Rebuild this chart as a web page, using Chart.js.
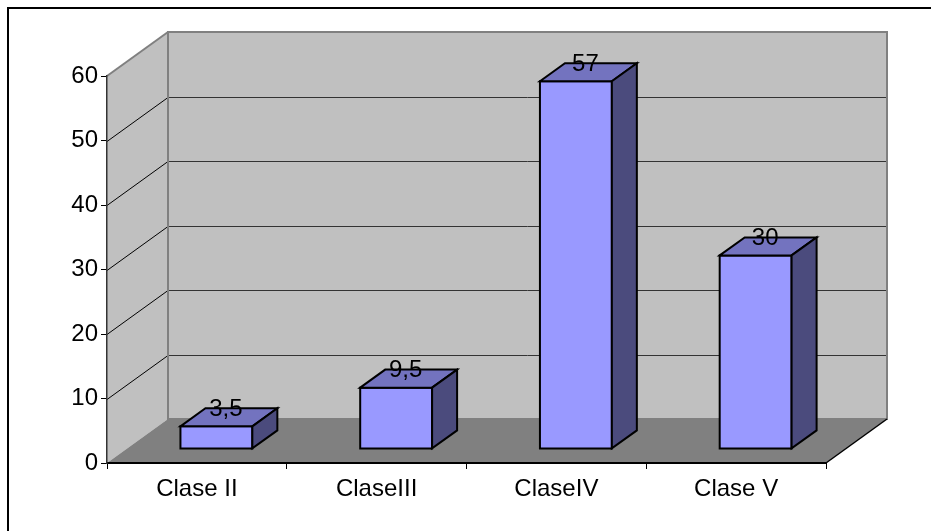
<!DOCTYPE html>
<html>
<head>
<meta charset="utf-8">
<style>
  html, body { margin: 0; padding: 0; background: #fff; }
  canvas { display: block; }
</style>
<script src="https://cdn.jsdelivr.net/npm/chart.js@4.4.1/dist/chart.umd.min.js"></script>
</head>
<body>
<canvas id="c" width="931" height="531"></canvas>
<script>
// Data
const categories = ['Clase II', 'ClaseIII', 'ClaseIV', 'Clase V'];
const values = [3.5, 9.5, 57, 30];
const yTickValues = [0, 10, 20, 30, 40, 50, 60];

// 3D projection: offset of the back wall relative to the front plane
const DEPTH_DX = 61;
const DEPTH_DY = -44;
// Bar depth, as fractions of the full depth
const BAR_F0 = 0.32;
const BAR_F1 = 0.73;

const FONT = '24px "Liberation Sans", Arial, sans-serif';

const COLORS = {
  wall: '#C0C0C0',
  wallBorder: '#808080',
  floor: '#808080',
  grid: '#333333',
  front: '#9999FF',
  top: '#7373BF',
  side: '#4B4B7D',
  outline: '#000000'
};

function poly(ctx, pts) {
  ctx.beginPath();
  ctx.moveTo(pts[0][0], pts[0][1]);
  for (let i = 1; i < pts.length; i++) ctx.lineTo(pts[i][0], pts[i][1]);
  ctx.closePath();
}

const formatValue = v => String(v).replace('.', ',');

// Background, frame, walls and floor
const wallsPlugin = {
  id: 'walls3d',
  beforeDraw(chart) {
    const ctx = chart.ctx;
    const { left, right } = chart.chartArea;
    const y = chart.scales.y;
    const yMin = y.getPixelForValue(y.min);
    const yMax = y.getPixelForValue(y.max);

    ctx.save();
    ctx.fillStyle = '#fff';
    ctx.fillRect(0, 0, chart.width, chart.height);

    // outer frame
    ctx.fillStyle = '#000';
    ctx.fillRect(7, 7, chart.width, 2);
    ctx.fillRect(7, 7, 2, chart.height);

    const bl = left + DEPTH_DX, br = right + DEPTH_DX;

    // back wall
    ctx.fillStyle = COLORS.wall;
    ctx.fillRect(bl, yMax + DEPTH_DY, br - bl, yMin - yMax);

    // side wall
    poly(ctx, [[left, yMin], [bl, yMin + DEPTH_DY], [bl, yMax + DEPTH_DY], [left, yMax]]);
    ctx.fill();

    // grid lines on back and side walls
    ctx.lineWidth = 1;
    yTickValues.forEach(v => {
      if (v === y.min || v === y.max) return;
      const py = Math.round(y.getPixelForValue(v)) + 0.5;
      ctx.strokeStyle = COLORS.grid;
      ctx.beginPath();
      ctx.moveTo(bl, py + DEPTH_DY);
      ctx.lineTo(br, py + DEPTH_DY);
      ctx.stroke();
      ctx.strokeStyle = '#000';
      ctx.beginPath();
      ctx.moveTo(left, py);
      ctx.lineTo(bl, py + DEPTH_DY);
      ctx.stroke();
    });

    // back wall border
    ctx.strokeStyle = COLORS.wallBorder;
    ctx.lineWidth = 2;
    ctx.strokeRect(bl, yMax + DEPTH_DY, br - bl, yMin - yMax);
    // top edge of the side wall
    ctx.beginPath();
    ctx.moveTo(left, yMax);
    ctx.lineTo(bl, yMax + DEPTH_DY);
    ctx.stroke();

    // floor
    ctx.fillStyle = COLORS.floor;
    poly(ctx, [[left, yMin], [right, yMin], [br, yMin + DEPTH_DY], [bl, yMin + DEPTH_DY]]);
    ctx.fill();
    ctx.strokeStyle = '#000';
    ctx.lineWidth = 1.5;
    ctx.beginPath();
    ctx.moveTo(right, yMin);
    ctx.lineTo(br, yMin + DEPTH_DY);
    ctx.stroke();
    ctx.restore();
  },

  // extruded bars and their value labels
  afterDatasetsDraw(chart) {
    const ctx = chart.ctx;
    const meta = chart.getDatasetMeta(0);
    const dx0 = DEPTH_DX * BAR_F0, dy0 = DEPTH_DY * BAR_F0;
    const dx1 = DEPTH_DX * BAR_F1, dy1 = DEPTH_DY * BAR_F1;

    ctx.save();
    ctx.lineWidth = 2;
    ctx.lineJoin = 'miter';
    ctx.strokeStyle = COLORS.outline;
    meta.data.forEach((el, i) => {
      const p = el.getProps(['x', 'y', 'base', 'width'], true);
      const x0 = p.x - p.width / 2, x1 = p.x + p.width / 2;
      const yt = p.y, yb = p.base;

      // front
      ctx.fillStyle = COLORS.front;
      poly(ctx, [[x0 + dx0, yt + dy0], [x1 + dx0, yt + dy0], [x1 + dx0, yb + dy0], [x0 + dx0, yb + dy0]]);
      ctx.fill(); ctx.stroke();
      // top
      ctx.fillStyle = COLORS.top;
      poly(ctx, [[x0 + dx0, yt + dy0], [x0 + dx1, yt + dy1], [x1 + dx1, yt + dy1], [x1 + dx0, yt + dy0]]);
      ctx.fill(); ctx.stroke();
      // side
      ctx.fillStyle = COLORS.side;
      poly(ctx, [[x1 + dx0, yt + dy0], [x1 + dx1, yt + dy1], [x1 + dx1, yb + dy1], [x1 + dx0, yb + dy0]]);
      ctx.fill(); ctx.stroke();

      // value label
      ctx.fillStyle = '#000';
      ctx.font = FONT;
      ctx.textAlign = 'center';
      ctx.textBaseline = 'middle';
      ctx.fillText(formatValue(values[i]), p.x + (dx0 + dx1) / 2 - 3, yt + dy1 + 1);
    });
    ctx.restore();
  }
};

new Chart(document.getElementById('c'), {
  type: 'bar',
  data: {
    labels: categories,
    datasets: [{
      data: values,
      backgroundColor: 'rgba(0,0,0,0)',
      borderWidth: 0,
      barPercentage: 0.4,
      categoryPercentage: 1.0
    }]
  },
  options: {
    responsive: false,
    animation: false,
    devicePixelRatio: 1,
    layout: { padding: { top: 76, right: 105, bottom: 0, left: 0 } },
    plugins: {
      legend: { display: false },
      tooltip: { enabled: false },
      title: { display: false }
    },
    scales: {
      x: {
        offset: true,
        afterFit: s => { s.height = 68; },
        grid: { offset: true, drawOnChartArea: false, color: '#000', tickLength: 6, lineWidth: 1 },
        border: { color: '#000', width: 2 },
        ticks: { color: '#000', font: { family: '"Liberation Sans", Arial, sans-serif', size: 24 }, padding: 6, maxRotation: 0 }
      },
      y: {
        min: 0,
        max: 60,
        afterFit: s => { s.width = 107; },
        afterBuildTicks: s => { s.ticks = yTickValues.map(v => ({ value: v })); },
        grid: { drawOnChartArea: false, color: '#000', tickLength: 6, lineWidth: 1 },
        border: { color: '#333', width: 1.5 },
        ticks: { color: '#000', font: { family: '"Liberation Sans", Arial, sans-serif', size: 24 }, padding: 3 }
      }
    }
  },
  plugins: [wallsPlugin]
});
</script>
</body>
</html>
